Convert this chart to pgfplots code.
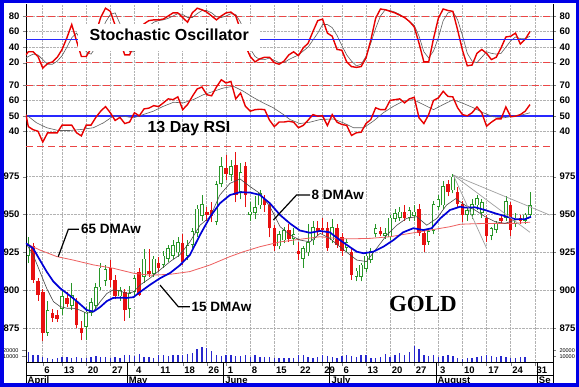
\documentclass[border=0pt]{standalone}
\usepackage{pgfplots}
\pgfplotsset{compat=1.18}
\usepackage{pgfplotstable}
\usepackage{fontspec}
\setmainfont{Liberation Sans}
\newfontfamily\goldfont{Liberation Serif}

\definecolor{framecol}{RGB}{0,0,230}
\definecolor{candlered}{RGB}{232,16,16}
\definecolor{candlegreen}{RGB}{40,150,40}
\definecolor{maBlue}{RGB}{0,0,215}
\definecolor{maRed}{RGB}{238,95,95}
\definecolor{maGray}{RGB}{70,70,70}
\definecolor{oscRed}{RGB}{232,0,0}
\definecolor{oscGray}{RGB}{95,95,95}
\definecolor{dashRed}{RGB}{235,70,70}
\definecolor{volBlue}{RGB}{40,40,205}
\definecolor{trendGray}{RGB}{160,160,160}
\definecolor{midBlue}{RGB}{40,40,255}

\pgfplotstableread{
i O H L C
2 923 935 918 930
6 872 893 870 887
9 888 901 884 896
11 890 905 887 897
14 876 889 867 886
15 885 895 883 892
16 890 905 888 902
17 902 918 900 915
18 906 917 903 914
21 896 902 893 900
23 888 903 882 898
24 899 910 896 908
26 909 927 905 921
28 911 923 909 921
30 917 926 915 923
31 921 930 919 928
32 923 933 921 930
33 925 935 922 932
35 923 933 920 930
36 930 941 928 939
37 938 956 935 954
38 949 963 946 957
41 945 972 943 970
42 970 988 968 982
44 976 986 972 982
46 965 984 960 978
48 950 958 946 952
49 951 962 947 955
50 956 966 954 964
54 929 939 927 937
55 933 942 931 940
57 934 941 930 937
59 921 929 915 928
60 925 944 923 932
61 933 946 930 942
65 933 947 931 942
68 928 934 925 932
70 909 915 906 913
71 909 918 906 917
72 914 925 912 923
73 920 928 918 926
74 937 944 935 941
76 936 941 934 938
77 935 950 933 948
78 947 954 945 951
79 948 955 946 952
81 948 955 946 953
82 949 956 946 952
85 932 941 930 939
86 939 959 937 957
87 955 963 953 960
88 956 972 954 969
90 966 977 964 975
93 950 955 946 953
94 950 960 947 957
95 956 963 953 961
96 951 960 948 958
98 936 942 933 941
99 940 946 938 944
101 948 962 946 959
103 944 951 942 948
105 946 951 944 950
106 950 965 948 956
}\upcandles

\pgfplotstableread{
i O H L C
3 929 931 905 907
4 906 908 893 897
5 899 901 866 872
7 885 888 879 882
8 884 887 879 881
10 895 899 889 891
12 893 895 875 877
13 875 880 867 872
19 915 920 902 907
20 907 910 894 896
22 899 901 880 887
25 912 915 896 897
27 913 927 909 911
29 918 922 912 915
34 931 937 917 919
39 952 955 946 950
40 953 958 945 949
43 981 989 973 977
45 983 991 958 963
47 982 985 955 963
51 960 963 952 956
52 956 958 935 941
53 941 943 926 929
56 940 944 932 934
58 926 932 920 924
62 941 946 936 939
63 941 948 937 940
64 941 945 926 928
66 941 944 928 930
67 935 938 923 926
69 925 927 907 910
75 939 942 936 937
80 952 956 946 948
83 954 957 936 938
84 938 940 925 930
89 970 973 962 965
91 965 968 955 957
92 957 959 945 950
97 948 950 932 936
100 948 950 944 946
102 956 958 936 940
104 948 950 944 946
}\downcandles

\pgfplotstableread{
i v
2 17100
3 11500
4 11500
5 8600
6 7400
7 5700
8 7400
9 8600
10 8600
11 7400
12 8600
13 7400
14 7400
15 8600
16 9800
17 8600
18 8600
19 7400
20 8600
21 7400
22 11500
23 11500
24 9800
25 14200
26 8600
27 8600
28 7400
29 11500
30 12500
31 9800
32 11500
33 11500
34 11500
35 14200
36 15400
37 22800
38 25700
39 24500
40 18900
41 11500
42 9800
43 11500
44 11500
45 9800
46 9800
47 11500
48 8600
49 11500
50 8600
51 8600
52 8600
53 7400
54 7400
55 7400
56 7400
57 7400
58 11500
59 12500
60 8600
61 7400
62 8600
63 11500
64 10300
65 8600
66 7400
67 9800
68 12500
69 9800
70 8600
71 11500
72 12500
73 7400
74 7400
75 8600
76 13200
77 8600
78 11500
79 15400
80 12500
81 17100
82 26900
83 22800
84 11500
85 9800
86 11500
87 8600
88 9800
89 11500
90 9800
91 7400
92 5700
93 7400
94 7400
95 8600
96 9800
97 11500
98 9800
99 8600
100 9800
101 8600
102 7400
103 7400
104 8600
105 8600
}\volume

\pgfplotsset{
  base/.style={scale only axis, width=527pt, xmin=1.52, xmax=110.77, anchor=north west,
    /pgf/number format/assume math mode=true,
    tick label style={font=\fontsize{9.5}{11}\selectfont\bfseries},
    tick align=outside, major tick length=3pt,
    axis line style={line width=0.8pt}},
  weeks/.style={xtick={5,9,14,19,24,29,34,39,43,48,53,58,63,67,72,77,82,87,92,97,102,107}},
  panel/.style={base, weeks, xticklabels={}, xmajorgrids, ymajorgrids,
    grid style={densely dotted, black!30, line width=0.6pt},
    separate axis lines, x axis line style={draw=none}, xtick style={draw=none},
    ytick pos=left},
  twin/.style={base, axis x line=none, axis y line*=right, ytick pos=right},
  dashline/.style={draw=dashRed, dash pattern=on 7pt off 4pt, line width=0.9pt},
  fiftyline/.style={draw=midBlue, line width=1.6pt},
  candlebar/.style={draw=none, mark=none, forget plot, error bars/.cd, y dir=plus, y explicit, error mark=none},
}

\begin{document}
\begin{tikzpicture}
\path[use as bounding box] (0pt,0pt) rectangle (579pt,387pt);
\fill[white] (0pt,0pt) rectangle (579pt,387pt);

% ---------------- Stochastic panel
\begin{axis}[panel, at={(26pt,383pt)}, height=70pt, ymin=5.49, ymax=95.4, ytick={20,40,60,80}]
\addplot[dashline] coordinates {(1.52,80) (110.77,80)};
\addplot[dashline] coordinates {(1.52,20) (110.77,20)};
\addplot[fiftyline] coordinates {(1.52,50) (110.77,50)};
\addplot[oscGray, line width=0.6pt] coordinates {
(1.52,26) (2,28) (3,31) (4,30) (5,24) (6,18) (7,18) (8,22) (9,29) (10,40) (11,52) (12,58) (13,48) (14,34) (15,31) (16,40) (17,56) (18,72) (19,82) (20,84) (21,70) (22,50) (23,34) (24,34) (25,45) (26,58) (27,67) (28,72) (29,74) (30,75) (31,77) (32,80) (33,83) (34,82) (35,78) (36,78) (37,83) (38,87) (39,87) (40,84) (41,79) (42,78) (43,80) (44,83) (45,82) (46,72) (47,55) (48,38) (49,28) (50,24) (51,24) (52,26) (53,23) (54,20) (55,20) (56,24) (57,27) (58,30) (59,35) (60,40) (61,49) (62,58) (63,69) (64,69) (65,65) (66,55) (67,42) (68,30) (69,22) (70,16) (71,18) (72,28) (73,45) (74,64) (75,80) (76,88) (77,87) (78,85) (79,82) (80,78) (81,73) (82,68) (83,54) (84,34) (85,26) (86,35) (87,52) (88,74) (89,84) (90,86) (91,75) (92,55) (93,32) (94,22) (95,20) (96,27) (97,34) (98,32) (99,31) (100,32) (101,40) (102,48) (103,53) (104,51) (105,51) (106,54)};
\addplot[oscRed, line width=1.4pt] coordinates {
(1.52,30) (2,34) (3,34) (4,28) (5,13) (6,19) (7,21) (8,27) (9,37) (10,52) (11,69) (12,48) (13,28) (14,28) (15,38) (16,58) (17,78) (18,90) (19,86) (20,68) (21,48) (22,30) (23,30) (24,45) (25,60) (26,70) (27,74) (28,75) (29,75) (30,76) (31,80) (32,84) (33,84) (34,78) (35,72) (36,84) (37,90) (38,88) (39,85) (40,80) (41,75) (42,80) (43,84) (44,85) (45,80) (46,62) (47,42) (48,28) (49,21) (50,25) (51,27) (52,27) (53,20) (54,18) (55,22) (56,30) (57,34) (58,29) (59,39) (60,45) (61,60) (62,74) (63,76) (64,58) (65,54) (66,37) (67,36) (68,21) (69,15) (70,14) (71,15) (72,26) (73,49) (74,77) (75,89) (76,88) (77,86) (78,84) (79,81) (80,78) (81,73) (82,66) (83,45) (84,21) (85,21) (86,51) (87,77) (88,89) (89,87) (90,86) (91,62) (92,36) (93,16) (94,17) (95,32) (96,37) (97,32) (98,24) (99,27) (100,39) (101,53) (102,54) (103,58) (104,44) (105,50) (106,60)};
\fill[white] (axis cs:12.3,35) rectangle (axis cs:50,69.7);
\node[font=\fontsize{16}{18}\selectfont\bfseries] at (axis cs:31.2,55.6) {Stochastic Oscillator};
\end{axis}
\begin{axis}[twin, at={(26pt,383pt)}, height=70pt, ymin=5.49, ymax=95.4, ytick={20,40,60,80}]
\addplot[fiftyline] coordinates {(1.52,50) (12.3,50)};
\addplot[fiftyline] coordinates {(50,50) (110.77,50)};
\end{axis}

% ---------------- RSI panel
\begin{axis}[panel, at={(26pt,313pt)}, height=73pt, ymin=29.8, ymax=77.13, ytick={40,50,60,70}]
\addplot[dashline] coordinates {(1.52,70) (110.77,70)};
\addplot[dashline] coordinates {(1.52,30) (110.77,30)};
\addplot[fiftyline] coordinates {(1.52,50) (110.77,50)};
\addplot[oscGray, line width=0.6pt] coordinates {
(1.52,50.8) (3.7,45.5) (5.8,42.3) (8.2,40.5) (10.6,40.5) (13.1,41.2) (15.5,42.3) (17.6,45.5) (19.6,49.8) (21.7,49.8) (23.8,48.7) (25.8,50.8) (27.9,53) (30,56.2) (32.1,58.8) (34.1,58.4) (36.2,60.5) (38.3,63.7) (40.4,65.9) (42.4,68) (44.5,69.2) (46.6,65.9) (48.7,61.8) (50.7,58.4) (52.8,55.2) (54.9,50.8) (56.25,47.6) (58.3,45) (60.4,45.9) (62.5,47.6) (65.2,48) (67.3,45.5) (69.4,42.3) (71.5,42.3) (73.5,46.5) (75.6,52) (77.7,56.2) (79.7,59.5) (81.8,60.5) (83.9,57.3) (86,54) (88,57.3) (90.1,60.5) (92.2,58) (94.3,55.2) (96.3,52) (98.4,49.4) (100.5,48.7) (102.6,49.8) (104.6,50.8) (106,52)};
\addplot[oscRed, line width=1.4pt] coordinates {
(1.52,50.8) (2,43) (3,41) (4,40) (5,33) (6,39) (7,39) (8,39) (9,44) (10,44) (11,44) (12,39) (13,37) (14,44) (15,44) (16,49) (17,53) (18,56) (19,52) (20,47) (21,49) (22,45) (23,46) (24,52) (25,50) (26,54.5) (27,55) (28,56.6) (29,56) (30,58.4) (31,61) (32,60.5) (33,62.3) (34,54) (35,57.3) (36,62.6) (37,67.4) (38,68.7) (39,63.7) (40,63) (41,68.7) (42,73.4) (43,71.3) (44,72.3) (45,61) (46,64.8) (47,56.2) (48,53) (49,54) (50,54.3) (51,54) (52,47.2) (53,43) (54,46) (55,46) (56,46.5) (57,45.9) (58,42.3) (59,43.8) (60,47.2) (61,50.8) (62,49.8) (63,50) (64,43.7) (65,50.8) (66,45.9) (67,44.4) (68,43.8) (69,37.3) (70,39) (71,39.4) (72,45) (73,47.6) (74,55.2) (75,54) (76,54) (77,60) (78,60.5) (79,61) (80,58.4) (81,61) (82,62) (83,48.7) (84,45) (85,50.8) (86,60) (87,61.6) (88,65.9) (89,62.6) (90,62.3) (91,55.2) (92,50.8) (93,50) (94,52) (95,55.8) (96,52) (97,43.3) (98,45.9) (99,48) (100,48) (101,55.8) (102,49.4) (103,49.8) (104,50.8) (105,53) (106,57.3)};
\node[inner sep=1pt, font=\fontsize{16}{18}\selectfont\bfseries] at (axis cs:35.3,41.8) {13 Day RSI};
\end{axis}
\begin{axis}[twin, at={(26pt,313pt)}, height=73pt, ymin=29.8, ymax=77.13, ytick={40,50,60,70}]
\end{axis}

% ---------------- Price panel
\begin{axis}[panel, at={(26pt,240pt)}, height=194pt, ymin=866.6, ymax=994.6, ytick={875,900,925,950,975}]
\addplot[candlebar, error bar style={draw=candlegreen, line width=0.7pt}]
  table[x=i, y=L, y error plus expr=\thisrow{H}-\thisrow{L}] {\upcandles};
\addplot[candlebar, error bar style={draw=candlered, line width=0.7pt}]
  table[x=i, y=L, y error plus expr=\thisrow{H}-\thisrow{L}] {\downcandles};
\addplot[candlebar, error bar style={draw=candlered, line width=3.6pt, line cap=butt}]
  table[x=i, y=C, y error plus expr=\thisrow{O}-\thisrow{C}] {\downcandles};
\addplot[candlebar, error bar style={draw=candlegreen, line width=3.6pt, line cap=butt}]
  table[x=i, y=O, y error plus expr=\thisrow{C}-\thisrow{O}] {\upcandles};
\addplot[candlebar, error bar style={draw=white, line width=2.0pt, line cap=butt, shorten <=0.8pt, shorten >=0.8pt}]
  table[x=i, y=O, y error plus expr=\thisrow{C}-\thisrow{O}] {\upcandles};
\addplot[maRed, line width=0.8pt] coordinates {
(1.52,931) (4.4,926.6) (7.9,922.3) (11.3,920) (15.5,916.8) (19.6,914.6) (23.8,911.3) (27.2,910) (31.4,910.6) (35.5,912.4) (39.7,916.8) (43.8,922.3) (46.6,925.5) (50,928.8) (54.2,932) (58.3,933.7) (62.5,935.4) (66.6,934) (68.7,934) (72.8,934.3) (77,935.4) (81.1,937.6) (85.3,939.8) (89.4,942) (91.5,943.6) (94.6,944) (98.8,944.2) (102.9,944.2) (106,945)};
\addplot[maGray, line width=0.6pt] coordinates {
(1.52,931) (3,923.4) (4.4,912.4) (5.8,901.4) (7.2,892.6) (8.6,889.3) (10,888.2) (11.3,888.2) (12.7,887) (14.1,884.9) (15.5,886) (16.9,892.6) (18.3,898) (19.6,900.3) (21,899.6) (22.4,898) (23.8,899) (25.2,903.6) (27.2,908) (29.3,913.5) (31.4,919) (33.4,923.4) (35.5,932) (37.6,943) (39.7,948.6) (41.7,962.9) (43.8,970.6) (45.9,973.5) (48,968.4) (50,964) (52.1,955.2) (54.2,942) (56.3,936.5) (58.3,933.2) (60.4,932) (62.5,937.6) (64.5,934.3) (66.6,928.8) (68.7,923.4) (70.1,920) (72.1,919) (74.2,927.7) (76.3,936.5) (78.4,943) (80.4,947.5) (82.5,948.6) (84.6,943) (86.7,947.5) (88.7,956.3) (90.6,960.5) (92.5,956.3) (94.6,953) (96.7,948.6) (98.8,945.3) (100.8,944.2) (102.9,946.4) (105,947) (106,948)};
\addplot[maBlue, line width=1.7pt] coordinates {
(1.52,931) (3,927.7) (4.4,920) (5.8,912.4) (7.2,905.8) (8.6,901.4) (10,898) (11.3,894.8) (12.7,891) (14.1,887) (15.5,886) (16.9,889) (18.3,893) (19.6,895) (21,895.2) (22.4,895) (23.8,895.5) (25.2,899) (27.2,903.6) (29.3,908) (31.4,911.5) (33.4,916.5) (35.5,923.4) (37.6,936.6) (39.7,948.6) (41.7,957.4) (43.8,962.9) (45.9,964.8) (48,964.5) (50,963) (52.1,957.4) (54.2,949.7) (56.3,944) (58.3,939.5) (60.4,938) (62.5,939.2) (64.5,938.3) (66.6,933.2) (68.7,928.5) (70.1,925.5) (71.5,924.5) (73.5,925.5) (75.6,928.8) (77.7,933.2) (79.7,938.3) (81.8,941) (83.9,939.8) (85.6,941) (87.4,947.5) (89.4,953) (91.5,955.2) (92.5,954.6) (94.6,954.8) (96.7,953) (98.8,950.8) (100.8,949) (102.9,947) (105,947) (106.2,948.6)};
\addplot[trendGray, line width=0.7pt] coordinates {(90.1,976.1) (110.1,949.7)};
\addplot[trendGray, line width=0.7pt] coordinates {(90.1,976.1) (106,938.3)};
\addplot[trendGray, line width=0.7pt] coordinates {(90.1,976.1) (97,927.8)};
\draw[black, line width=1.2pt] (axis cs:12.5,940.3) -- (axis cs:10.3,940.3) -- (axis cs:8.2,922.2);
\node[anchor=west, inner sep=0pt, font=\fontsize{13.5}{15}\selectfont\bfseries] at (axis cs:12.9,940.3) {65 DMAw};
\draw[black, line width=1.2pt] (axis cs:35.5,889.2) -- (axis cs:33.1,889.2) -- (axis cs:29.3,903.5);
\node[anchor=west, inner sep=0pt, font=\fontsize{13.5}{15}\selectfont\bfseries] at (axis cs:35.8,889.2) {15 DMAw};
\draw[black, line width=1.2pt] (axis cs:60.4,962.9) -- (axis cs:57.6,962.9) -- (axis cs:52.8,946.4);
\node[anchor=west, inner sep=0pt, font=\fontsize{13.5}{15}\selectfont\bfseries] at (axis cs:60.7,962.9) {8 DMAw};
\node[font=\goldfont\bfseries\fontsize{23}{25}\selectfont] at (axis cs:83.8,891) {GOLD};
\end{axis}
\begin{axis}[twin, at={(26pt,240pt)}, height=194pt, ymin=866.6, ymax=994.6, ytick={875,900,925,950,975}]
\end{axis}

% ---------------- Volume panel and date rows
\begin{axis}[base, weeks, at={(26pt,46pt)}, height=21pt, ymin=0, ymax=36000,
  scaled y ticks=false,
  ytick={10000,20000}, yticklabels={10000,20000}, ytick pos=left,
  yticklabel style={font=\fontsize{5.5}{6}\selectfont},
  axis x line*=bottom, x axis line style={-},
  xmajorgrids, grid style={densely dotted, black!30, line width=0.6pt},
  xticklabels={6,13,20,27,4,11,18,26,1,8,15,22,29,6,13,20,27,3,10,17,24,31},
  xticklabel style={anchor=north west, inner sep=1pt, xshift=0.5pt},
  major tick length=4pt, clip=false]
\addplot[ycomb, volBlue, line width=1.4pt] table[x=i, y=v] {\volume};
\draw[black, line width=0.8pt] (axis cs:1.52,-22300) -- (axis cs:110.77,-22300);
\draw[black, line width=0.8pt] (axis cs:1.52,0) -- (axis cs:1.52,-42000);
\draw[black, line width=0.8pt] (axis cs:110.77,0) -- (axis cs:110.77,-42000);
\draw[black, line width=0.8pt] (axis cs:22.5,0) -- (axis cs:22.5,-42000);
\draw[black, line width=0.8pt] (axis cs:42.5,0) -- (axis cs:42.5,-42000);
\draw[black, line width=0.8pt] (axis cs:64.5,0) -- (axis cs:64.5,-42000);
\draw[black, line width=0.8pt] (axis cs:86.5,0) -- (axis cs:86.5,-42000);
\draw[black, line width=0.8pt] (axis cs:107.5,0) -- (axis cs:107.5,-42000);
\node[anchor=north west, inner sep=1.5pt, font=\fontsize{9.5}{11}\selectfont\bfseries] at (axis cs:1.52,-22600) {April};
\node[anchor=north west, inner sep=1.5pt, font=\fontsize{9.5}{11}\selectfont\bfseries] at (axis cs:22.5,-22600) {May};
\node[anchor=north west, inner sep=1.5pt, font=\fontsize{9.5}{11}\selectfont\bfseries] at (axis cs:42.5,-22600) {June};
\node[anchor=north west, inner sep=1.5pt, font=\fontsize{9.5}{11}\selectfont\bfseries] at (axis cs:64.5,-22600) {July};
\node[anchor=north west, inner sep=1.5pt, font=\fontsize{9.5}{11}\selectfont\bfseries] at (axis cs:86.5,-22600) {August};
\node[anchor=north west, inner sep=1.5pt, font=\fontsize{9.5}{11}\selectfont\bfseries] at (axis cs:107.5,-22600) {Se};
\end{axis}
\begin{axis}[twin, at={(26pt,46pt)}, height=21pt, ymin=0, ymax=36000,
  scaled y ticks=false,
  ytick={10000,20000}, yticklabels={10000,20000},
  yticklabel style={font=\fontsize{5.5}{6}\selectfont}, major tick length=3pt]
\end{axis}

\draw[framecol, line width=3.5pt] (1.75pt,1.75pt) rectangle (577.25pt,385.25pt);
\end{tikzpicture}
\end{document}
